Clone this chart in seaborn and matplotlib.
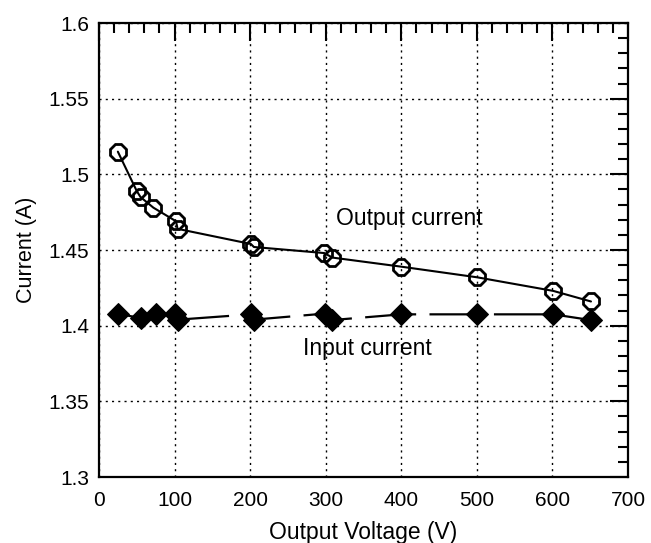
import matplotlib
matplotlib.use("Agg")
import matplotlib.pyplot as plt
import seaborn as sns
import pandas as pd
from matplotlib.ticker import MultipleLocator

# Data
out_voltage = [25, 50, 55, 72, 102, 104, 201, 205, 298, 309, 400, 500, 601, 651]
out_current = [1.515, 1.489, 1.485, 1.478, 1.469, 1.464, 1.454, 1.452, 1.448, 1.445, 1.439, 1.432, 1.423, 1.416]

in_voltage = [25, 55, 75, 101, 105, 201, 205, 299, 308, 400, 500, 601, 651]
in_current = [1.408, 1.405, 1.408, 1.4075, 1.404, 1.4075, 1.404, 1.408, 1.4037, 1.4075, 1.4075, 1.4075, 1.4037]

xticks = [0, 100, 200, 300, 400, 500, 600, 700]
yticks = [1.3, 1.35, 1.4, 1.45, 1.5, 1.55, 1.6]
ytick_labels = ["1.3", "1.35", "1.4", "1.45", "1.5", "1.55", "1.6"]

sns.set_style("white")
plt.rcParams["font.family"] = ["Liberation Sans", "DejaVu Sans"]
plt.rcParams["text.color"] = "black"
plt.rcParams["axes.labelcolor"] = "black"
plt.rcParams["xtick.color"] = "black"
plt.rcParams["ytick.color"] = "black"

fig = plt.figure(figsize=(6.51, 5.43), dpi=100)
ax = fig.add_axes([0.152, 0.1215, 0.8127, 0.8361])

df_out = pd.DataFrame({"V": out_voltage, "I": out_current})
df_in = pd.DataFrame({"V": in_voltage, "I": in_current})

sns.lineplot(data=df_out, x="V", y="I", ax=ax, estimator=None, sort=False,
             color="black", linewidth=1.5, marker="8", markersize=13,
             markerfacecolor="none", markeredgecolor="black", markeredgewidth=2.0)
sns.lineplot(data=df_in, x="V", y="I", ax=ax, estimator=None, sort=False,
             color="black", linewidth=1.6, linestyle=(0, (23, 6)), marker="D",
             markersize=11.5, markerfacecolor="black", markeredgecolor="black")

ax.set_xlim(0, 700)
ax.set_ylim(1.3, 1.6)
ax.set_xticks(xticks)
ax.set_yticks(yticks)
ax.set_yticklabels(ytick_labels)
ax.xaxis.set_minor_locator(MultipleLocator(20))
ax.yaxis.set_minor_locator(MultipleLocator(0.01))
ax.tick_params(which="both", direction="in", top=True, right=True, width=1.5,
               color="black", labelcolor="black", labelsize=15)
ax.tick_params(axis="x", which="major", pad=10)
ax.tick_params(axis="y", which="major", pad=7)
ax.tick_params(which="major", length=13)
ax.tick_params(which="minor", length=7)
for s in ax.spines.values():
    s.set_linewidth(1.6)
    s.set_color("black")

ax.grid(True, which="major", color="black", linestyle=(0, (1.5, 3)), linewidth=1.0)
ax.set_axisbelow(True)

ax.set_xlabel("Output Voltage (V)", fontsize=16.5, labelpad=8, color="black")
ax.set_ylabel("Current (A)", fontsize=15.5, labelpad=8, color="black")

ax.text(410, 1.4711, "Output current", fontsize=16.5, ha="center", va="center", color="black")
ax.text(354.5, 1.3852, "Input current", fontsize=16.5, ha="center", va="center", color="black")

fig.savefig("out.png", dpi=100)
